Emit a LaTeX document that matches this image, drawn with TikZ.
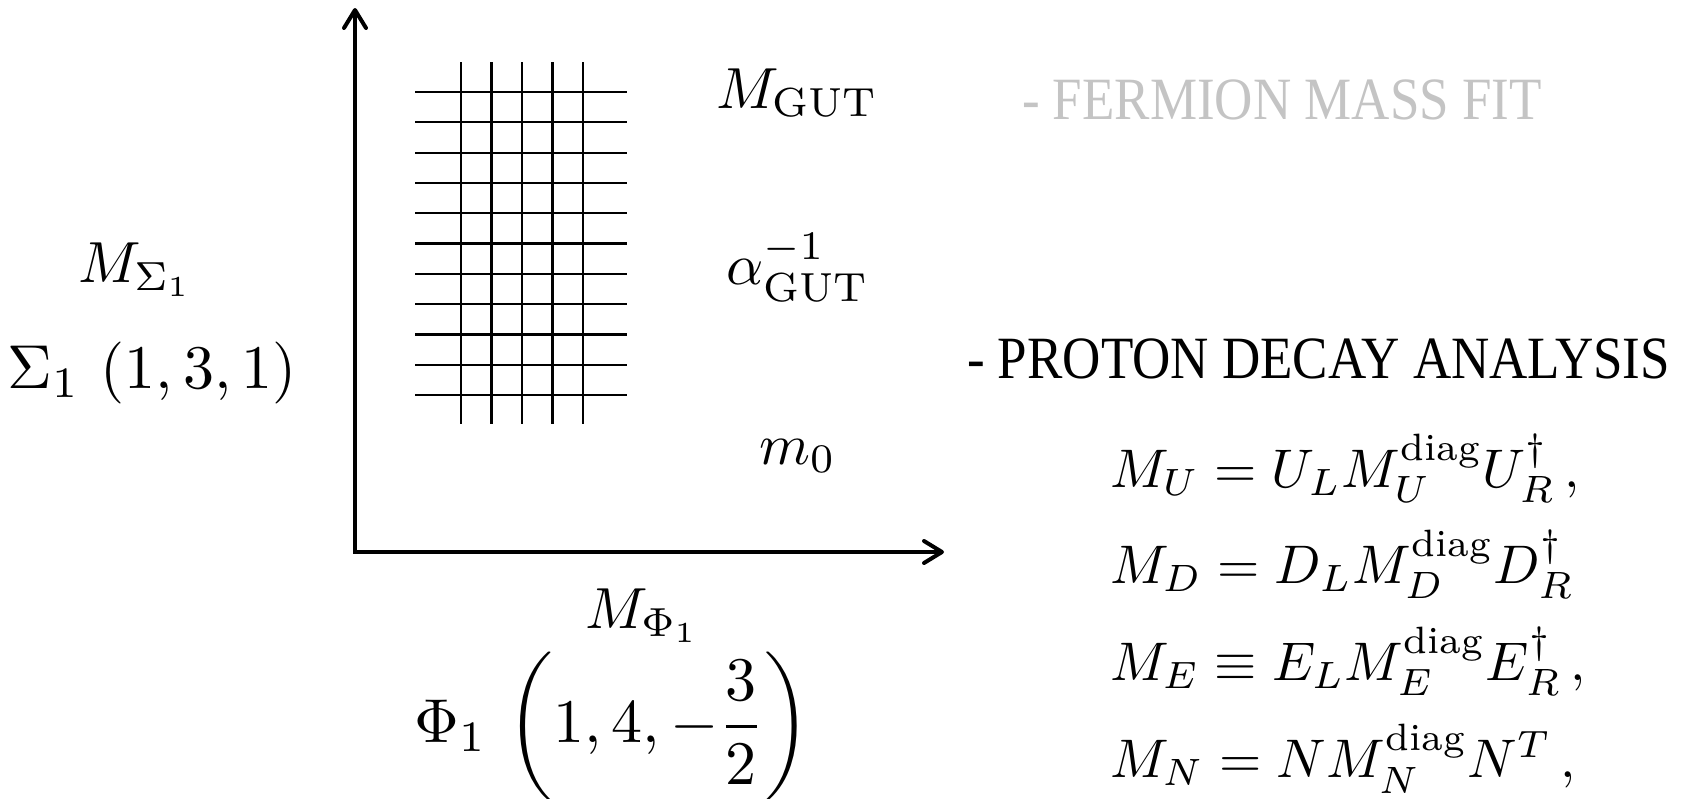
\RequirePackage{fix-cm}
\documentclass[tikz,border=0pt]{standalone}
\usepackage{amsmath}
\usepackage{fontspec}
\newfontfamily\timesfont{Liberation Serif}
\usetikzlibrary{arrows.meta}
\definecolor{fitgray}{RGB}{196,196,196}
\tikzset{
  barb/.tip={Straight Barb[length=9pt,width=11pt,line cap=round,line join=round]},
  axisline/.style={line width=2pt, line join=miter, barb-barb},
  gridline/.style={line width=1.1pt},
  mathbase/.style={inner sep=0pt, anchor=base west, font=\fontsize{10}{12}\selectfont},
  mlabel/.style={mathbase, scale=2.9},
  biglabel/.style={mathbase, scale=3.1},
  eqlabel/.style={mathbase, scale=2.72},
  tlabel/.style={inner sep=0pt, anchor=base west, font=\fontsize{10}{12}\selectfont\timesfont, xscale=2.65, yscale=3},
}
\begin{document}
\begin{tikzpicture}[x=0.5pt,y=-0.5pt]
\useasboundingbox (0,0) rectangle (1692,798);
% axes
\coordinate (ytop) at (355,8);
\coordinate (origin) at (355,552);
\coordinate (xend) at (944,552);
\draw[axisline] (ytop) -- (origin) -- (xend);
% grid
\foreach \k in {0,...,10} {
  \draw[gridline] (415,{92+30.3*\k}) -- (627,{92+30.3*\k});
}
\foreach \k in {0,...,4} {
  \draw[gridline] ({461+30.5*\k},62) -- ({461+30.5*\k},424);
}
% labels near grid
\node[mlabel] (mgut) at (715,108) {$M_{\mathrm{GUT}}$};
\node[mlabel] (agut) at (725,284) {$\alpha_{\mathrm{GUT}}^{-1}$};
\node[mlabel] (mzero) at (758,464) {$m_0$};
% left labels
\node[mlabel] (msigma) at (77,282) {$M_{\Sigma_1}$};
\node[biglabel] (sigma) at (6,388) {$\Sigma_1\,\left(1,3,1\right)$};
% bottom labels
\node[mlabel] (mphi) at (584,628) {$M_{\Phi_1}$};
\node[biglabel] (phi) at (413,742) {$\Phi_1\,\left(1,4,-\dfrac{3}{2}\right)$};
% right texts
\node[tlabel, text=fitgray] (fit) at (1021,119) {- FERMION MASS FIT};
\node[tlabel] (proton) at (966,378) {- PROTON DECAY ANALYSIS};
% equations
\node[eqlabel] (equ) at (1109,487) {$M_U = U_L M_U^{\mathrm{diag}} U_R^\dagger\,,$};
\node[eqlabel] (eqd) at (1109,583) {$M_D = D_L M_D^{\mathrm{diag}} D_R^\dagger$};
\node[eqlabel] (eqe) at (1109,680) {$M_E \equiv E_L M_E^{\mathrm{diag}} E_R^\dagger\,,$};
\node[eqlabel] (eqn) at (1109,777) {$M_N = N M_N^{\mathrm{diag}} N^T\,,$};
\end{tikzpicture}
\end{document}
